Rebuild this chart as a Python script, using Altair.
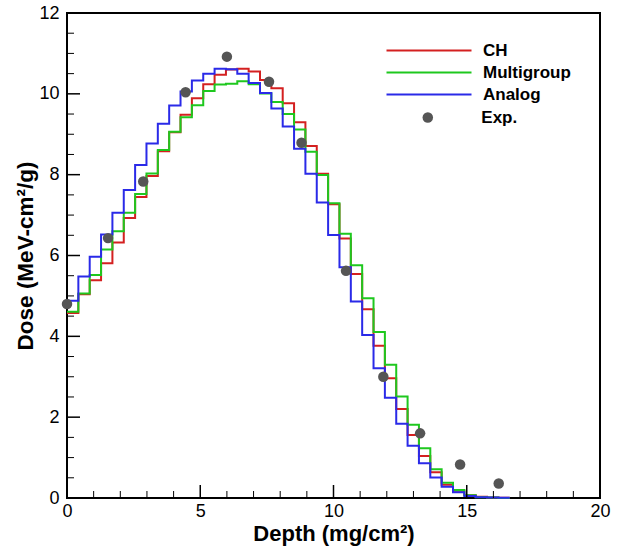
import altair as alt
import pandas as pd

# Bin edges (mg/cm^2) of the step histograms
edges = [0.0, 0.426, 0.852, 1.278, 1.704, 2.13, 2.556, 2.982, 3.408, 3.834,
         4.26, 4.686, 5.112, 5.538, 5.964, 6.39, 6.816, 7.242, 7.668, 8.094,
         8.52, 8.946, 9.372, 9.798, 10.224, 10.65, 11.076, 11.502, 11.928, 12.354,
         12.78, 13.206, 13.632, 14.058, 14.484, 14.91, 15.336, 15.762, 16.188, 16.614]

ch = [4.58, 5.04, 5.39, 5.81, 6.32, 6.93, 7.45, 7.97, 8.58, 9.05,
      9.48, 9.89, 10.24, 10.47, 10.6, 10.62, 10.55, 10.34, 10.14, 9.77,
      9.3, 8.71, 8.02, 7.27, 6.42, 5.54, 4.67, 3.77, 2.96, 2.2,
      1.56, 1.04, 0.64, 0.33, 0.18, 0.07, 0.03, 0.015, 0.005]
multigroup = [4.61, 5.06, 5.52, 6.15, 6.6, 7.06, 7.52, 8.03, 8.61, 9.06,
              9.42, 9.72, 10.07, 10.23, 10.25, 10.31, 10.24, 10.01, 9.8, 9.5,
              9.12, 8.57, 7.99, 7.29, 6.54, 5.76, 4.94, 4.11, 3.3, 2.51,
              1.81, 1.23, 0.71, 0.38, 0.2, 0.07, 0.02, 0.01, 0.0]
analog = [4.88, 5.48, 5.97, 6.52, 7.06, 7.62, 8.24, 8.77, 9.26, 9.71,
          10.06, 10.33, 10.5, 10.62, 10.61, 10.5, 10.27, 10.02, 9.64, 9.19,
          8.64, 8.02, 7.31, 6.51, 5.71, 4.86, 4.03, 3.21, 2.48, 1.84,
          1.29, 0.86, 0.51, 0.28, 0.14, 0.05, 0.02, 0.01, 0.005]

exp_x = [0.0, 1.54, 2.86, 4.45, 6.0, 7.58, 8.8, 10.47, 11.87, 13.25, 14.75, 16.2]
exp_y = [4.8, 6.43, 7.83, 10.04, 10.92, 10.3, 8.79, 5.62, 3.0, 1.6, 0.83, 0.36]

series_names = ["CH", "Multigroup", "Analog"]
series_colors = ["#d42020", "#1ec81e", "#2a2ae8"]

x_major = [0, 5, 10, 15, 20]
x_minor = [1, 2, 3, 4, 6, 7, 8, 9, 11, 12, 13, 14, 16, 17, 18, 19]
y_major = [0, 2, 4, 6, 8, 10, 12]
y_minor = [0.5, 1, 1.5, 2.5, 3, 3.5, 4.5, 5, 5.5, 6.5, 7, 7.5,
           8.5, 9, 9.5, 10.5, 11, 11.5]

rows = []
for name, vals in zip(series_names, [ch, multigroup, analog]):
    for i, v in enumerate(vals):
        rows.append({"series": name, "depth": edges[i], "dose": v})
    rows.append({"series": name, "depth": edges[len(vals)], "dose": vals[-1]})
lines_df = pd.DataFrame(rows)
exp_df = pd.DataFrame({"depth": exp_x, "dose": exp_y, "label": ["Exp."] * len(exp_x)})

FONT = "Liberation Sans"
W, H = 533, 485

xscale = alt.Scale(domain=[0, 20], nice=False, zero=False)
yscale = alt.Scale(domain=[0, 12], nice=False, zero=False)

xaxis = alt.Axis(values=x_major, ticks=False, domain=False, grid=False,
                 labelFlush=False, labelFontSize=18, labelFont=FONT,
                 labelColor="black", labelPadding=4,
                 title="Depth (mg/cm²)", titleFont=FONT, titleFontSize=22,
                 titleFontWeight="bold", titleColor="black", titlePadding=3)
yaxis = alt.Axis(values=y_major, ticks=False, domain=False, grid=False,
                 labelFontSize=18, labelFont=FONT, labelColor="black",
                 labelPadding=8, title="Dose (MeV-cm²/g)", titleFont=FONT,
                 titleFontSize=22.5, titleFontWeight="bold", titleColor="black",
                 titlePadding=1)

lines = alt.Chart(lines_df).mark_line(interpolate="step-after", strokeWidth=2).encode(
    x=alt.X("depth:Q", scale=xscale, axis=xaxis),
    y=alt.Y("dose:Q", scale=yscale, axis=yaxis),
    color=alt.Color("series:N",
                    scale=alt.Scale(domain=series_names, range=series_colors),
                    legend=alt.Legend(orient="none", legendX=316, legendY=29, title=None,
                                      symbolType="M-8.5,0H8.5", symbolSize=100,
                                      symbolStrokeWidth=2, symbolOffset=37.5,
                                      labelFont=FONT, labelFontSize=17,
                                      labelFontWeight="bold", labelColor="black",
                                      labelOffset=45.5, rowPadding=4, padding=0)),
)

points = alt.Chart(exp_df).mark_point(filled=True, size=110, color="#555555", opacity=1).encode(
    x=alt.X("depth:Q", scale=xscale, axis=xaxis),
    y=alt.Y("dose:Q", scale=yscale, axis=yaxis),
    shape=alt.Shape("label:N", scale=alt.Scale(domain=["Exp."], range=["circle"]),
                    legend=alt.Legend(orient="none", legendX=316, legendY=96, title=None,
                                      symbolSize=110, symbolFillColor="#555555",
                                      symbolStrokeWidth=0, symbolOffset=36.3,
                                      labelFont=FONT, labelFontSize=17,
                                      labelFontWeight="bold", labelColor="black",
                                      labelOffset=45, padding=0)),
)

xt_major = alt.Chart(pd.DataFrame({"depth": x_major})).mark_rule(color="black", strokeWidth=1.5).encode(
    x=alt.X("depth:Q", scale=xscale, axis=xaxis), y=alt.value(H), y2=alt.value(H - 13))
xt_minor = alt.Chart(pd.DataFrame({"depth": x_minor})).mark_rule(color="black", strokeWidth=1).encode(
    x=alt.X("depth:Q", scale=xscale, axis=xaxis), y=alt.value(H), y2=alt.value(H - 7))
yt_major = alt.Chart(pd.DataFrame({"dose": y_major})).mark_rule(color="black", strokeWidth=1.5).encode(
    y=alt.Y("dose:Q", scale=yscale, axis=yaxis), x=alt.value(0), x2=alt.value(13))
yt_minor = alt.Chart(pd.DataFrame({"dose": y_minor})).mark_rule(color="black", strokeWidth=1).encode(
    y=alt.Y("dose:Q", scale=yscale, axis=yaxis), x=alt.value(0), x2=alt.value(7))

chart = alt.layer(lines, points, xt_major, xt_minor, yt_major, yt_minor).properties(
    width=W, height=H,
    padding={"left": 67, "top": 13, "right": 22, "bottom": 50},
    autosize=alt.AutoSizeParams(type="none"),
    background="white",
).configure_view(stroke="black", strokeWidth=2)

chart.save("out.html", embed_options={"renderer": "svg", "actions": False})
